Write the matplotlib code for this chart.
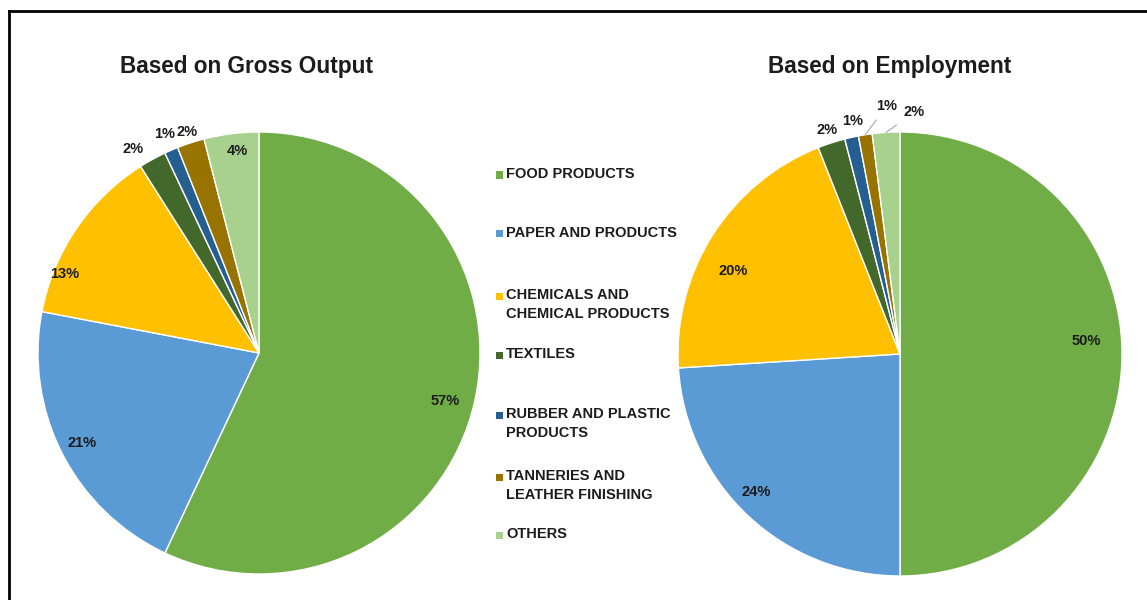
import numpy as np
import matplotlib
matplotlib.use("Agg")
import matplotlib.pyplot as plt
from matplotlib.lines import Line2D
from matplotlib.patches import Rectangle

plt.rcParams["font.family"] = ["Liberation Sans", "DejaVu Sans"]

# sectors, in the order they are drawn clockwise from 12 o'clock
sectors = ["FOOD PRODUCTS", "PAPER AND PRODUCTS", "CHEMICALS AND\nCHEMICAL PRODUCTS",
           "TEXTILES", "RUBBER AND PLASTIC\nPRODUCTS", "TANNERIES AND\nLEATHER FINISHING",
           "OTHERS"]
gross_output = [57, 21, 13, 2, 1, 2, 4]
employment = [50, 24, 20, 2, 1, 1, 2]
colors = ["#70AD47", "#5B9BD5", "#FFC000", "#43682B", "#255E91", "#997300", "#A9D18E"]

W, H = 1147, 600
TXT = "#1c1c1c"

fig = plt.figure(figsize=(W / 100, H / 100), dpi=100)
fig.patch.set_facecolor("white")


def pie_axes(cx, cy, r):
    # square axes so that a unit-radius pie spans r pixels
    return fig.add_axes([(cx - r) / W, (H - cy - r) / H, 2 * r / W, 2 * r / H])


def draw_pie(ax, values, lab_r, lab_shift, leaders):
    wedges, _ = ax.pie(values, colors=colors, startangle=90, counterclock=False,
                       wedgeprops=dict(edgecolor="white", linewidth=1.0))
    ax.set_xlim(-1, 1)
    ax.set_ylim(-1, 1)
    ax.set_aspect("equal")
    ax.axis("off")
    for i, (w, v) in enumerate(zip(wedges, values)):
        mid = np.deg2rad((w.theta1 + w.theta2) / 2 + lab_shift[i])
        x, y = lab_r[i] * np.cos(mid), lab_r[i] * np.sin(mid)
        if leaders[i]:
            wm = np.deg2rad((w.theta1 + w.theta2) / 2)
            ax.annotate(f"{v}%", xy=(np.cos(wm), np.sin(wm)), xytext=(x, y),
                        ha="center", va="center", fontsize=10.5, fontweight="bold",
                        color=TXT,
                        arrowprops=dict(arrowstyle="-", color="#a6a6a6", lw=0.8,
                                        shrinkA=4, shrinkB=0))
        else:
            ax.text(x, y, f"{v}%", ha="center", va="center", fontsize=10.5,
                    fontweight="bold", color=TXT)


# left pie: gross output
ax1 = pie_axes(259, 353, 221)
draw_pie(ax1, gross_output,
         lab_r=[0.87, 0.90, 0.95, 1.085, 1.08, 1.05, 0.92],
         lab_shift=[-2, 0, 12, 3, 0, 0, -1],
         leaders=[False] * 7)

# right pie: employment
ax2 = pie_axes(900, 354, 222)
draw_pie(ax2, employment,
         lab_r=[0.84, 0.90, 0.84, 1.06, 1.07, 1.12, 1.09],
         lab_shift=[4, -3, 6, 0, -1, -6, -7],
         leaders=[False, False, False, False, False, True, True])

fig.text(246 / W, 1 - 67 / H, "Based on Gross Output", ha="center", va="center",
         fontsize=16.3, fontweight="bold", color=TXT)
fig.text(890 / W, 1 - 67 / H, "Based on Employment", ha="center", va="center",
         fontsize=16.3, fontweight="bold", color=TXT)

# legend in the middle column
legend_y = [175, 234, 296, 355, 415, 477, 535]
for name, col, ly in zip(sectors, colors, legend_y):
    fig.add_artist(Rectangle(((496) / W, 1 - (ly + 3.5) / H), 7 / W, 7 / H,
                             transform=fig.transFigure, color=col, lw=0))
    fig.text(506 / W, 1 - (ly - 8) / H, name, ha="left", va="top", fontsize=10.5,
             fontweight="bold", color=TXT, linespacing=1.45)

# frame lines along the top and left
fig.add_artist(Line2D([9 / W, 1], [1 - 11 / H, 1 - 11 / H], color="black", lw=2,
                      transform=fig.transFigure))
fig.add_artist(Line2D([9 / W, 9 / W], [0, 1 - 11 / H], color="black", lw=2,
                      transform=fig.transFigure))

fig.savefig("out.png", dpi=100)
